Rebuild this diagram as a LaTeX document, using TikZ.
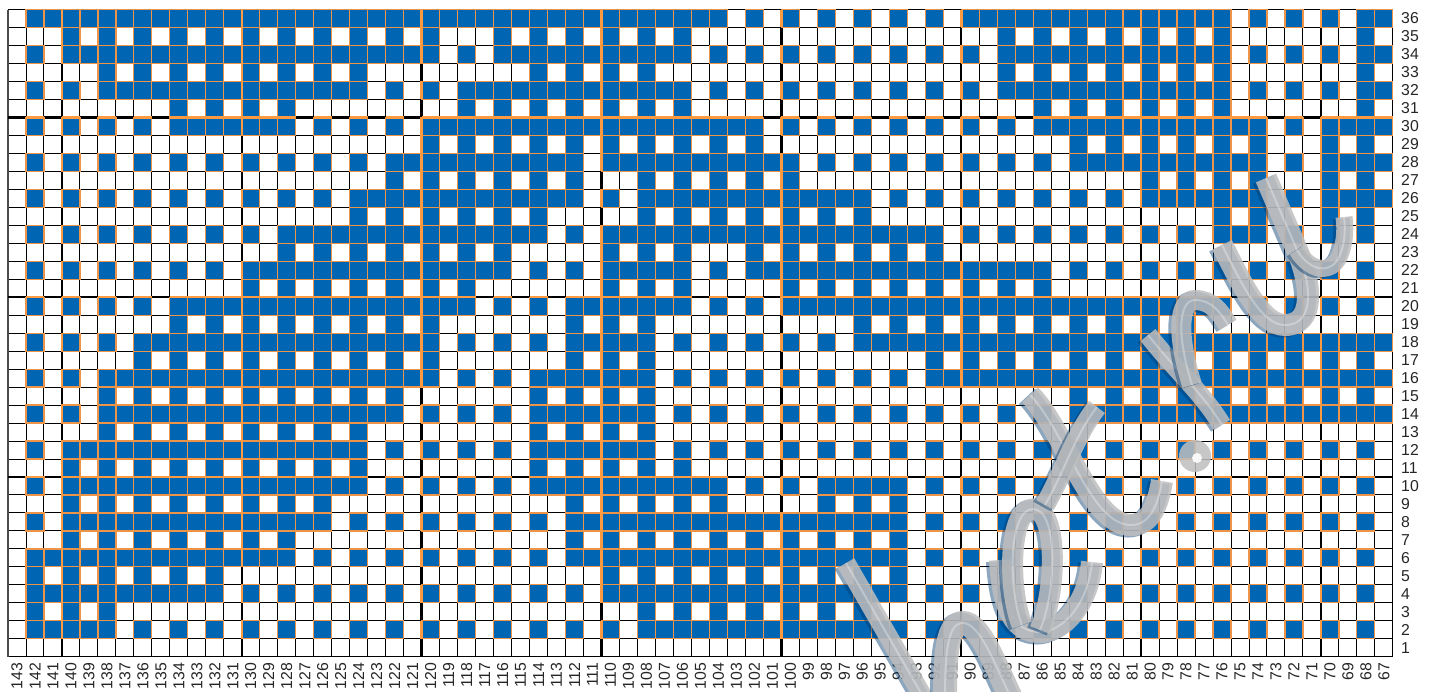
\documentclass[tikz,border=0pt]{standalone}
\usepackage{fontspec}
\setmainfont{Liberation Sans}
\definecolor{cellblue}{HTML}{0066B3}
\definecolor{edgeorange}{HTML}{FF9A40}
\definecolor{thinorange}{HTML}{EE9448}
\definecolor{wmgray}{HTML}{BEBEBE}
\definecolor{wmdark}{HTML}{003A70}
\tikzset{
  thinline/.style={black,line width=0.95pt},
  thickline/.style={black,line width=2.4pt},
  cellfill/.style={fill=cellblue},
  celledge/.style={draw=thinorange,line width=1.2pt},
  thickorange/.style={edgeorange,line width=2.6pt},
  rowlabel/.style={anchor=west,inner sep=0pt,text=black!85,font=\fontsize{15.8}{16}\selectfont},
  collabel/.style={anchor=east,rotate=90,inner sep=0pt,text=black!85,font=\fontsize{15.8}{16}\selectfont},
  wmshadow/.style={wmdark,opacity=.45,line cap=butt},
  wmband/.style={wmgray,opacity=.86,line cap=butt},
  wmline/.style={white,opacity=.3,line width=2pt,line cap=butt}
}
\newcommand\wmstroke[2]{%
  \draw[wmshadow,line width=#1pt,xshift=-3pt,yshift=-1.5pt] #2;
  \draw[wmband,line width=#1pt] #2;
  \draw[wmline] #2;
}
\newcount\cx
\newcount\passno
\def\cxo{8}\def\cyo{9.5}\def\cdx{17.985}\def\cdy{17.98}
\def\bluecell{%
  \pgfmathsetmacro\xa{\cxo+\cdx*\the\cx}%
  \pgfmathsetmacro\ya{\cyo+\cdy*(36-\currow)}%
  \pgfmathsetmacro\xb{\xa+\cdx}%
  \pgfmathsetmacro\yb{\ya+\cdy}%
  \ifnum\passno=1
    \fill[cellfill] (\xa,\ya) rectangle (\xb,\yb);
  \else\ifnum\passno=2
    \draw[celledge] (\xa,\ya) rectangle (\xb,\yb);
  \else
    \pgfmathtruncatemacro\mm{mod(\the\cx+7,10)}%
    \ifnum\mm=0 \draw[thickorange] (\xa,\ya) -- (\xa,\yb);\fi
    \ifnum\mm=9 \draw[thickorange] (\xb,\ya) -- (\xb,\yb);\fi
    \pgfmathtruncatemacro\rm{mod(\currow,10)}%
    \ifnum\rm=0 \draw[thickorange] (\xa,\ya) -- (\xb,\ya);\fi
    \ifnum\rm=1 \ifnum\currow>1 \draw[thickorange] (\xa,\yb) -- (\xb,\yb);\fi\fi
  \fi\fi
}
\def\cellloop#1{\ifx#1\relax\else\ifnum#1=1 \bluecell\fi\advance\cx by 1 \expandafter\cellloop\fi}
\newcommand\gridrow[2]{\def\currow{#1}\cx=0 \cellloop #2\relax}
\newcommand\allrows{%
\gridrow{36}{011 1111111111 1111111111 1111111111 1111111010 1010101010 1111111111 1111101010 1011}
\gridrow{35}{000 1010101010 1010101010 1000101010 1010100000 0000000000 0010101010 1010100000 0010}
\gridrow{34}{010 1111111111 1111111111 1010111111 1111101010 1010101010 1011111111 1111101010 1011}
\gridrow{33}{000 0010101010 1010101000 0000001010 1010000000 0000000000 0010101010 1010100000 0010}
\gridrow{32}{010 1011111111 1111111010 1011111111 1111101010 1010101010 1011111111 1111101010 1011}
\gridrow{31}{000 0000001010 1010000000 0010101010 1010100000 0000000000 0000101010 1010100000 0010}
\gridrow{30}{010 1010101111 1110101010 1111111111 1111111110 1010101010 1010111111 1111111010 1111}
\gridrow{29}{000 0000000000 0000000000 1010101010 1010101010 0000000000 0000001010 1010101000 1010}
\gridrow{28}{010 1010101010 1010101011 1111111110 1111111111 1010101010 1010101111 1111111010 1111}
\gridrow{27}{000 0000000000 0000000010 1010101010 0010101010 1000000000 0000000000 1010101000 1010}
\gridrow{26}{010 1010101010 1010101111 1111111110 1011111111 1111101010 1010101010 1111111010 1111}
\gridrow{25}{000 0000000000 0000001010 1010101000 0010101010 1010100000 0000000000 0000101000 1010}
\gridrow{24}{010 1010101010 1011111111 1111111010 1111111111 1111111110 1010101010 1010111010 1010}
\gridrow{23}{000 0000000000 0010101010 1010100000 1010100010 1010101010 0000000000 0000000000 0000}
\gridrow{22}{010 1010101010 1111111111 1111101010 1111101011 1111111111 1111101010 1010101010 1010}
\gridrow{21}{000 0000000000 1010101010 1010000000 1010100000 1010101010 1010100000 0000000000 0000}
\gridrow{20}{010 1010101111 1111111111 1110101011 1111101010 1111111111 1111111111 1111101010 1010}
\gridrow{19}{000 0000001010 1010101010 1000000010 1010000000 0000101010 1010101010 1010000000 0000}
\gridrow{18}{010 1010111111 1111111111 1010101011 1110101010 1010111111 1111111111 1111111111 1111}
\gridrow{17}{000 0000101010 1010101010 1000000010 1010000000 0000000010 1010101010 1010101010 1010}
\gridrow{16}{010 1011111111 1111111111 1010101111 1110101010 1010101011 1111111111 1111111111 1111}
\gridrow{15}{000 0010101010 1010101010 0000001010 1010000000 0000000000 0000001010 1010101010 1010}
\gridrow{14}{010 1011111111 1111111110 1010101111 1110101010 1010101010 1010101111 1111111111 1111}
\gridrow{13}{000 0010101010 1010101000 0000001010 1010000000 0000000000 0000000000 0000000000 0000}
\gridrow{12}{010 1111111111 1111111010 1010101111 1110101010 1010101010 1010101010 1010101010 1010}
\gridrow{11}{000 1010101010 1010101000 0000001010 1010100000 0000000000 0000000000 0000000000 0000}
\gridrow{10}{010 1111111111 1111111010 1010101111 1111111010 1011111010 1010101010 1010101010 1010}
\gridrow{9}{000 1010101010 1010100000 0000000010 1010101000 0010101000 0000000000 0000000000 0000}
\gridrow{8}{010 1111111111 1111101010 1010101011 1111111111 1111111010 1010101010 1010101010 1010}
\gridrow{7}{000 1010101010 1010000000 0000000010 1010101010 1010101000 0000000000 0000000000 0000}
\gridrow{6}{011 1111111111 1110101010 1010101011 1111111111 1111111010 1010101010 1010101010 1010}
\gridrow{5}{010 1010101010 0000000000 0000000000 1010101010 1010101000 0000000000 0000000000 0000}
\gridrow{4}{011 1111111110 1010101010 1010101010 1111111111 1111111010 1010101010 1010101010 1010}
\gridrow{3}{010 1010000000 0000000000 0000000000 0010101010 1010100000 0000000000 0000000000 0000}
\gridrow{2}{011 1110101010 1010101010 1010101010 1011111111 1111111010 1010101010 1010101010 1010}
}
\begin{document}
\begin{tikzpicture}[x=1pt,y=-1pt]
\useasboundingbox (0,0) rectangle (1434,691);
\fill[white] (0,0) rectangle (1434,691);
% thin grid
\foreach \i in {0,...,36} \draw[thinline] (8,{9.5+17.98*\i}) -- (1392.8,{9.5+17.98*\i});
\foreach \i in {1,...,77} \draw[thinline] ({8+17.985*\i},9.5) -- ({8+17.985*\i},656.8);
\draw[black!70,line width=1.6pt] (8,9.5) -- (8,656.8);
% heavy lines every ten
\foreach \i in {3,13,...,73} \draw[thickline] ({8+17.985*\i},9.5) -- ({8+17.985*\i},656.8);
\foreach \i in {6,16,26} \draw[thickline] (8,{9.5+17.98*\i}) -- (1392.8,{9.5+17.98*\i});
% cells: first 3, then groups of ten, last 4; fills, edges, heavy edges
\passno=1 \allrows
\passno=2 \allrows
\passno=3 \allrows
% labels
\foreach \n in {1,...,36}
  \node[rowlabel] (r\n) at (1401,{9.5+17.98*(36-\n)+9}) {\n};
\foreach \n in {67,...,143}
  \node[collabel] (c\n) at ({8+17.985*(143-\n)+9},662.5) {\n};
% watermark
\begin{scope}
\clip (0,0) rectangle (1434,691);
\wmstroke{19}{(846,563) -- (925,700)}
\wmstroke{24}{(945,700) .. controls (945,650) and (948,623) .. (963,623) .. controls (980,623) and (995,665) .. (1012,700)}
\wmstroke{22}{(1000,560) .. controls (1003,610) and (1015,632) .. (1040,632) .. controls (1062,632) and (1088,605) .. (1092,562)}
\wmstroke{21}{(1040,630) .. controls (1057,590) and (1058,509) .. (1033,509) .. controls (1008,509) and (1008,590) .. (1022,625)}
\wmstroke{22}{(1030,395) .. controls (1065,430) and (1090,525) .. (1131,525) .. controls (1150,525) and (1158,505) .. (1162,481)}
\wmstroke{20}{(1097,407) .. controls (1075,435) and (1065,470) .. (1045,505)}
\fill[wmgray,opacity=.86] (1195,456) circle (16);
\fill[white,opacity=.9] (1197,458) circle (5);
\wmstroke{19}{(1148,335) .. controls (1180,375) and (1200,390) .. (1222,425)}
\wmstroke{20}{(1192,385) .. controls (1175,330) and (1180,300) .. (1195,300) .. controls (1212,300) and (1220,312) .. (1228,325)}
\wmstroke{22}{(1222,245) .. controls (1240,280) and (1260,325) .. (1285,325) .. controls (1315,325) and (1312,285) .. (1297,250) -- (1266,178)}
\wmstroke{17}{(1297,250) .. controls (1310,272) and (1332,275) .. (1340,255) .. controls (1344,245) and (1346,232) .. (1344,217)}
\end{scope}
\end{tikzpicture}
\end{document}
